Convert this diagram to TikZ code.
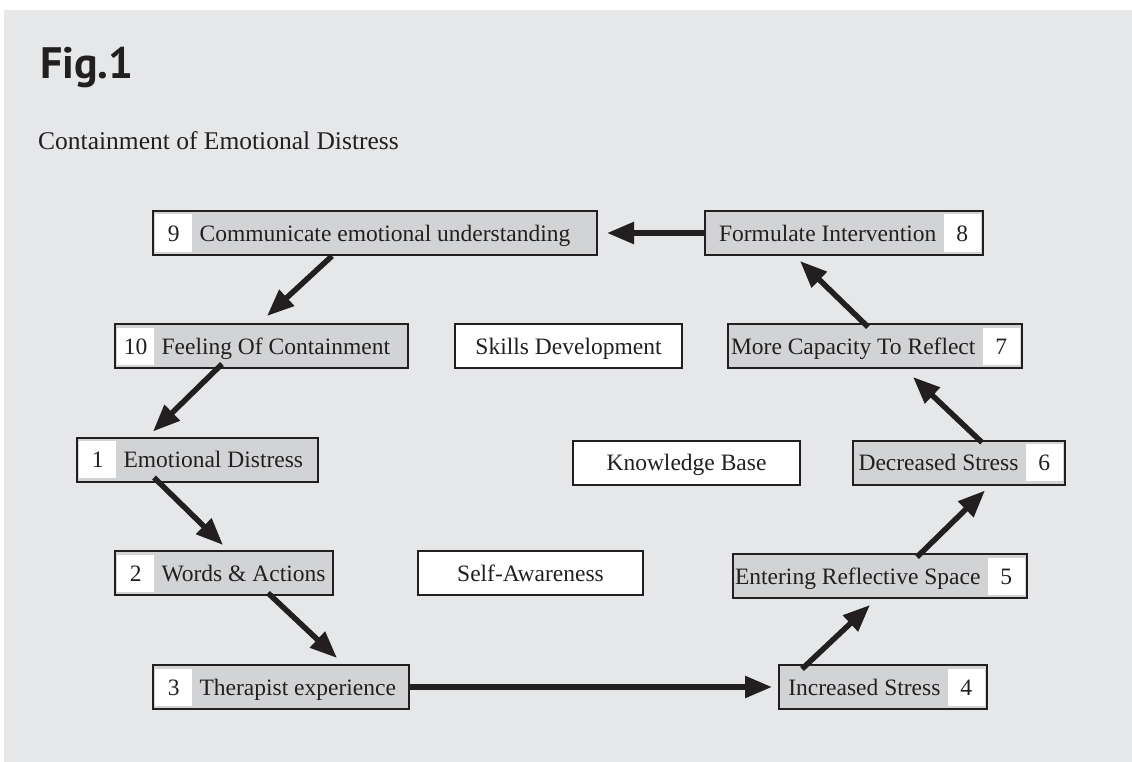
\documentclass[tikz,border=0pt]{standalone}
\usepackage{fontspec}
\setmainfont{Liberation Serif}
\newfontfamily\headfont{PT Sans}
\usetikzlibrary{positioning,arrows.meta}

\definecolor{ink}{HTML}{231F20}
\definecolor{panel}{HTML}{E6E7E8}
\definecolor{boxgray}{HTML}{D1D3D4}

\tikzset{
  stage/.style={draw=ink, line width=2pt, fill=boxgray, minimum height=44pt, inner sep=0pt},
  plainbox/.style={draw=ink, line width=2pt, fill=white, minimum height=44pt, inner sep=0pt,
    text height=16pt, text depth=0pt},
  cell/.style={fill=white, minimum width=37pt, minimum height=37pt, inner sep=0pt,
    text height=16pt, text depth=0pt},
  txt/.style={inner sep=0pt, text height=16pt, text depth=0pt},
  flow/.style={draw=ink, line width=5.5pt, -{Triangle[length=27pt,width=21pt]}}
}

\begin{document}
\begin{tikzpicture}[x=1pt, y=-1pt, text=ink, font=\fontsize{23.5pt}{28pt}\selectfont]
\useasboundingbox (0,0) rectangle (1132,762);
\fill[white] (0,0) rectangle (1132,762);
\fill[panel] (4,10) rectangle (1132,762);

\node[anchor=base west, inner sep=0pt, font=\headfont\bfseries\fontsize{44pt}{50pt}\selectfont] (fig) at (40,79) {Fig.1};
\node[anchor=base west, inner sep=0pt, font=\fontsize{25.5pt}{30pt}\selectfont] (title) at (38,150) {Containment of Emotional Distress};

% stages, number on the left
\node[stage, minimum width=444pt] (s9) at (375,233) {};
\node[cell, right=3pt of s9.west] (c9) {9};
\node[txt, right=7pt of c9] (t9) {Communicate emotional understanding};

\node[stage, minimum width=293pt] (s10) at (261.5,346) {};
\node[cell, right=3pt of s10.west] (c10) {10};
\node[txt, right=7pt of c10] (t10) {Feeling Of Containment};

\node[stage, minimum width=241pt] (s1) at (197.5,459.5) {};
\node[cell, right=3pt of s1.west] (c1) {1};
\node[txt, right=7pt of c1] (t1) {Emotional Distress};

\node[stage, minimum width=218pt] (s2) at (224,573) {};
\node[cell, right=3pt of s2.west] (c2) {2};
\node[txt, right=7pt of c2] (t2) {Words \& Actions};

\node[stage, minimum width=256pt] (s3) at (281,687) {};
\node[cell, right=3pt of s3.west] (c3) {3};
\node[txt, right=7pt of c3] (t3) {Therapist experience};

% stages, number on the right
\node[stage, minimum width=208pt] (s4) at (883,687) {};
\node[cell, left=3pt of s4.east] (c4) {4};
\node[txt, left=7pt of c4] (t4) {Increased Stress};

\node[stage, minimum width=294pt] (s5) at (880,576) {};
\node[cell, left=3pt of s5.east] (c5) {5};
\node[txt, left=7pt of c5] (t5) {Entering Reflective Space};

\node[stage, minimum width=212pt] (s6) at (959,462.5) {};
\node[cell, left=3pt of s6.east] (c6) {6};
\node[txt, left=7pt of c6] (t6) {Decreased Stress};

\node[stage, minimum width=294pt] (s7) at (875,346) {};
\node[cell, left=3pt of s7.east] (c7) {7};
\node[txt, left=7pt of c7] (t7) {More Capacity To Reflect};

\node[stage, minimum width=278pt] (s8) at (844,233) {};
\node[cell, left=3pt of s8.east] (c8) {8};
\node[txt, left=7pt of c8] (t8) {Formulate Intervention};

% middle boxes
\node[plainbox, minimum width=227pt] (skills) at (568.5,346) {Skills Development};
\node[plainbox, minimum width=227pt] (know) at (686.5,462.5) {Knowledge Base};
\node[plainbox, minimum width=225pt] (self) at (530.5,573) {Self-Awareness};

% the cycle
\draw[flow, shorten >=9pt] (s8) -- (s9);
\draw[flow] ([xshift=-43pt]s9.south) -- ([xshift=5.5pt,yshift=7pt]s10.north);
\draw[flow] ([xshift=-39.5pt,yshift=5pt]s10.south) -- ([xshift=-44.5pt,yshift=5pt]s1.north);
\draw[flow] ([xshift=-43.5pt,yshift=5pt]s1.south) -- ([xshift=-1pt,yshift=5pt]s2.north);
\draw[flow] ([xshift=44pt,yshift=3pt]s2.south) -- ([xshift=56pt,yshift=6pt]s3.north);
\draw[flow, shorten >=6pt] (s3) -- (s4);
\draw[flow] ([xshift=-81pt,yshift=-5pt]s4.north) -- ([xshift=-10pt,yshift=-6pt]s5.south);
\draw[flow] ([xshift=37pt,yshift=-4pt]s5.north) -- ([xshift=26pt,yshift=-5pt]s6.south);
\draw[flow] ([xshift=23pt,yshift=-3pt]s6.north) -- ([xshift=38pt,yshift=-8pt]s7.south);
\draw[flow] ([xshift=-7pt,yshift=-4pt]s7.north) -- ([xshift=-44pt,yshift=-5pt]s8.south);
\end{tikzpicture}
\end{document}
